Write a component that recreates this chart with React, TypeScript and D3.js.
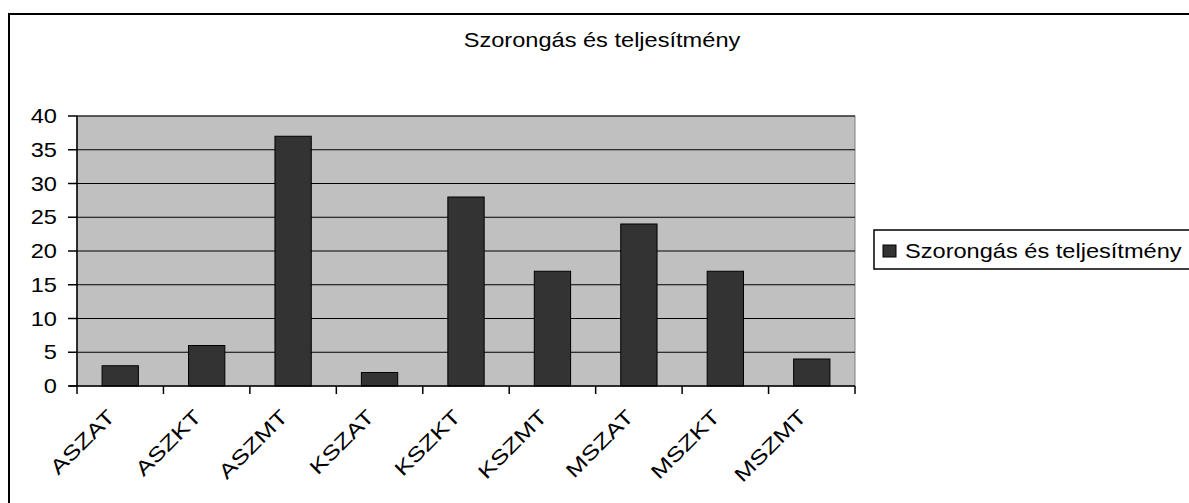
import React from "react";
import * as d3 from "d3";

const categories = ["ASZAT", "ASZKT", "ASZMT", "KSZAT", "KSZKT", "KSZMT", "MSZAT", "MSZKT", "MSZMT"];
const values = [3, 6, 37, 2, 28, 17, 24, 17, 4];
const yTicks = [0, 5, 10, 15, 20, 25, 30, 35, 40];
const title = "Szorongás és teljesítmény";
const seriesName = "Szorongás és teljesítmény";

const W = 1189;
const H = 503;
const plot = { left: 77, right: 855, top: 116, bottom: 386 };
const FONT = "'Liberation Sans', Arial, sans-serif";
const FS = 20;
const SX = 1.18;

export default function App() {
  const x = d3.scaleBand<string>().domain(categories).range([plot.left, plot.right]).paddingInner(0.58).paddingOuter(0.29);
  const xb = d3.scaleBand<string>().domain(categories).range([plot.left, plot.right]);
  const y = d3.scaleLinear().domain([0, 40]).range([plot.bottom, plot.top]);

  return (
    <svg width={W} height={H} style={{ position: "absolute", left: 0, top: 0, background: "#fff" }} fontFamily={FONT}>
      <rect x={9} y={14} width={W + 10} height={H + 10} fill="#fff" stroke="#000" strokeWidth={2} />
      <text transform={`translate(602,47) scale(${SX},1)`} textAnchor="middle" fontSize={FS} fill="#000">{title}</text>

      <rect x={plot.left} y={plot.top} width={plot.right - plot.left} height={plot.bottom - plot.top} fill="#C0C0C0" stroke="#808080" strokeWidth={1} />
      {yTicks.filter(t => t > 0).map(t => (
        <line key={"g" + t} x1={plot.left} x2={plot.right} y1={y(t)} y2={y(t)} stroke="#000" strokeWidth={1} />
      ))}

      {categories.map((c, i) => (
        <rect key={c} x={x(c)} y={y(values[i])} width={x.bandwidth()} height={y(0) - y(values[i])} fill="#333333" stroke="#000" strokeWidth={1} />
      ))}

      <line x1={plot.left} x2={plot.left} y1={plot.top} y2={plot.bottom} stroke="#000" strokeWidth={1.5} />
      <line x1={plot.left - 8} x2={plot.right} y1={plot.bottom} y2={plot.bottom} stroke="#000" strokeWidth={1.5} />
      {yTicks.map(t => (
        <g key={"t" + t}>
          <line x1={plot.left - 9} x2={plot.left} y1={y(t)} y2={y(t)} stroke="#000" strokeWidth={1.5} />
          <text transform={`translate(57,${y(t) + 7}) scale(${SX},1)`} textAnchor="end" fontSize={FS} fill="#000">{t}</text>
        </g>
      ))}
      {categories.map(c => (
        <line key={"xt" + c} x1={xb(c)} x2={xb(c)} y1={plot.bottom} y2={plot.bottom + 8} stroke="#000" strokeWidth={1.5} />
      ))}
      <line x1={plot.right} x2={plot.right} y1={plot.bottom} y2={plot.bottom + 8} stroke="#000" strokeWidth={1.5} />
      {categories.map(c => (
        <text key={"l" + c} transform={`translate(${(xb(c) as number) + xb.bandwidth() / 2 - 4},418) rotate(-45) scale(1.3,1)`} textAnchor="end" fontSize={FS} fill="#000">{c}</text>
      ))}

      <rect x={874} y={230} width={W} height={39} fill="#fff" stroke="#000" strokeWidth={1.5} />
      <rect x={883} y={245} width={13} height={12} fill="#333333" stroke="#000" strokeWidth={1} />
      <text transform={`translate(905,258) scale(${SX},1)`} fontSize={FS} fill="#000">{seriesName}</text>
    </svg>
  );
}
